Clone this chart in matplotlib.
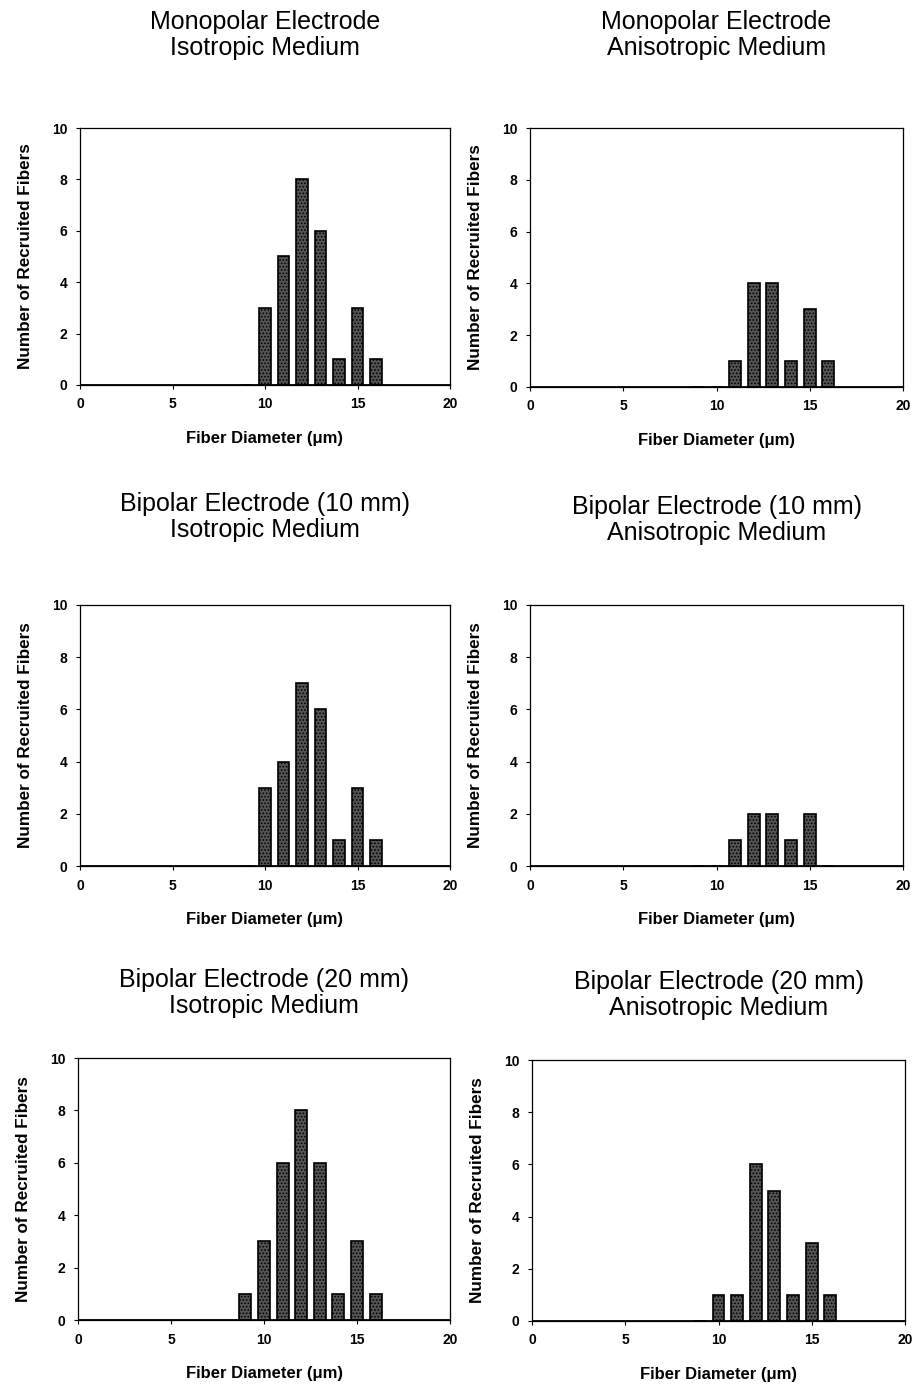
import matplotlib.pyplot as plt
import numpy as np

plt.rcParams['font.family'] = ['Liberation Sans', 'DejaVu Sans']
plt.rcParams['hatch.color'] = '#1a1a1a'
plt.rcParams['hatch.linewidth'] = 0.8

# fiber diameters (um) and recruited fiber counts per panel
diameters = [9, 10, 11, 12, 13, 14, 15, 16]
mono_iso = [0, 3, 5, 8, 6, 1, 3, 1]
mono_aniso = [0, 0, 1, 4, 4, 1, 3, 1]
bi10_iso = [0, 3, 4, 7, 6, 1, 3, 1]
bi10_aniso = [0, 0, 1, 2, 2, 1, 2, 0]
bi20_iso = [1, 3, 6, 8, 6, 1, 3, 1]
bi20_aniso = [0, 1, 1, 6, 5, 1, 3, 1]

titles = [
    "Monopolar Electrode\nIsotropic Medium",
    "Monopolar Electrode\nAnisotropic Medium",
    "Bipolar Electrode (10 mm)\nIsotropic Medium",
    "Bipolar Electrode (10 mm)\nAnisotropic Medium",
    "Bipolar Electrode (20 mm)\nIsotropic Medium",
    "Bipolar Electrode (20 mm)\nAnisotropic Medium",
]
series = [mono_iso, mono_aniso, bi10_iso, bi10_aniso, bi20_iso, bi20_aniso]

W, H = 916, 1387
fig = plt.figure(figsize=(W / 100, H / 100), dpi=100)

# axes boxes in pixels: (left, top, right, bottom)
boxes = [
    (80, 128, 450, 385), (530, 128, 903, 387),
    (80, 605, 450, 866), (530, 605, 903, 866),
    (78, 1058, 450, 1320), (532, 1060, 905, 1321),
]
title_y = [35, 35, 517, 520, 993, 995]

for i, (box, vals, title) in enumerate(zip(boxes, series, titles)):
    l, t, r, b = box
    ax = fig.add_axes([l / W, 1 - b / H, (r - l) / W, (b - t) / H])
    ax.bar(diameters, vals, width=0.64, color='#555555', edgecolor='black',
           linewidth=1.2, hatch='.....', zorder=3)
    ax.plot([0, 20], [0, 0], color='black', lw=1.3, zorder=4)
    ax.set_xlim(0, 20)
    ax.set_ylim(0, 10)
    ax.set_xticks(np.arange(0, 21, 5))
    ax.set_yticks(np.arange(0, 11, 2))
    ax.tick_params(direction='out', length=3, width=0.8, labelsize=10,
                   pad=6)
    for lab in ax.get_xticklabels() + ax.get_yticklabels():
        lab.set_fontweight('bold')
    for s in ax.spines.values():
        s.set_linewidth(0.9)
    ax.set_xlabel("Fiber Diameter (\u03bcm)", fontsize=12, fontweight='bold',
                  labelpad=14)
    ax.set_ylabel("Number of Recruited Fibers", fontsize=12.3,
                  fontweight='bold', labelpad=14)
    fig.text((l + r) / 2 / W, 1 - title_y[i] / H, title, ha='center',
             va='center', fontsize=18, linespacing=1.15)

fig.savefig('out.png', dpi=100)
